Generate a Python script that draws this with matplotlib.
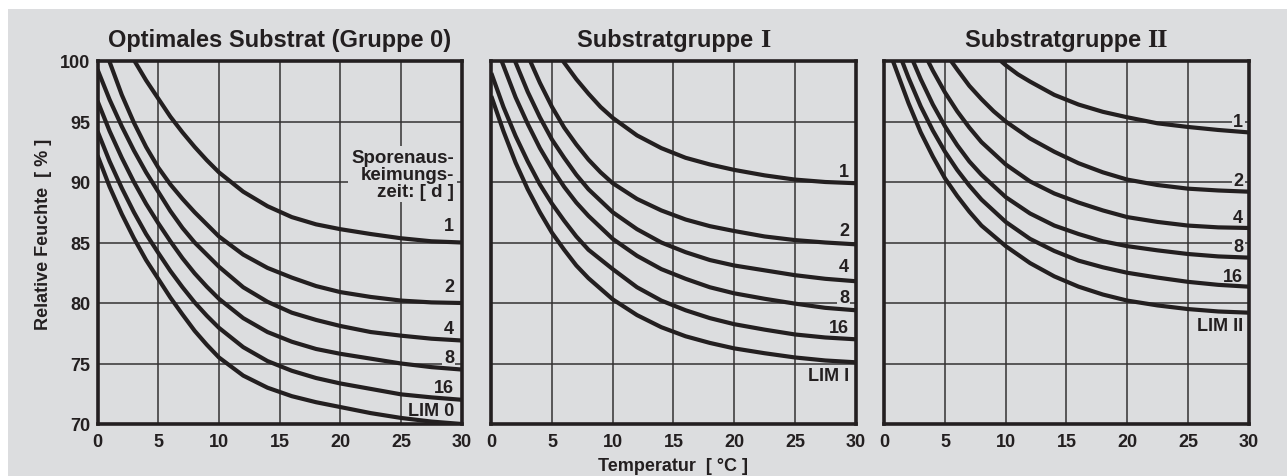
import matplotlib
matplotlib.use("Agg")
import matplotlib.pyplot as plt
from matplotlib.patches import Rectangle
from matplotlib.transforms import IdentityTransform

plt.rcParams['font.family'] = ['Liberation Sans', 'DejaVu Sans']
plt.rcParams['font.weight'] = 'bold'

W, H = 1287, 477
BG = '#dcdddf'
INK = '#231f20'
GRID = '#333132'

X_TICKS = [0, 5, 10, 15, 20, 25, 30]
Y_TICKS = [70, 75, 80, 85, 90, 95, 100]
CURVE_NAMES = ['1', '2', '4', '8', '16']

# ---------------- Optimales Substrat (Gruppe 0) ----------------
G0_T = [
    [3.05, 4, 5, 6, 7, 8, 9, 10, 12, 14, 16, 18, 20, 22.5, 25, 27.5, 30],
    [0.97, 2, 3, 4, 5, 6, 7, 8, 10, 12, 14, 16, 18, 20, 22.5, 25, 27.5, 30],
    [0, 1, 2, 3, 4, 5, 6, 7, 8, 10, 12, 14, 16, 18, 20, 22.5, 25, 27.5, 30],
    [0, 1, 2, 3, 4, 5, 6, 7, 8, 9, 10, 12, 14, 16, 18, 20, 22.5, 25, 27.5, 30],
    [0, 1, 2, 3, 4, 5, 6, 7, 8, 9, 10, 12, 14, 16, 18, 20, 22.5, 25, 27.5, 30],
    [0, 1, 2, 3, 4, 5, 6, 7, 8, 9, 10, 12, 14, 16, 18, 20, 22.5, 25, 27.5, 30],
]
G0_RH = [
    [100, 98.4, 96.9, 95.4, 94.1, 92.9, 91.8, 90.8, 89.2, 88.0, 87.1, 86.5, 86.1, 85.7, 85.35, 85.1, 85.0],
    [100, 97.2, 94.9, 92.9, 91.2, 89.8, 88.6, 87.5, 85.5, 84.0, 82.9, 82.1, 81.4, 80.9, 80.5, 80.2, 80.05, 80.0],
    [99.3, 96.8, 94.6, 92.6, 90.8, 89.2, 87.6, 86.2, 85.0, 83.0, 81.3, 80.1, 79.2, 78.6, 78.1, 77.6, 77.3, 77.05, 76.9],
    [96.7, 94.2, 92.0, 90.0, 88.2, 86.6, 85.1, 83.7, 82.45, 81.35, 80.35, 78.75, 77.6, 76.8, 76.2, 75.8, 75.4, 75.0, 74.7, 74.5],
    [94.2, 91.7, 89.5, 87.5, 85.7, 84.15, 82.65, 81.3, 80.05, 78.95, 77.95, 76.35, 75.2, 74.4, 73.8, 73.35, 72.9, 72.45, 72.2, 72.0],
    [92.2, 89.6, 87.35, 85.35, 83.55, 82.0, 80.45, 79.05, 77.7, 76.55, 75.5, 74.0, 73.0, 72.3, 71.8, 71.4, 70.9, 70.5, 70.2, 70.0],
]

# ---------------- Substratgruppe I ----------------
G1_T = [
    [5.9, 7, 8, 9, 10, 12, 14, 16, 18, 20, 22.5, 25, 27.5, 30],
    [3.2, 4, 5, 6, 7, 8, 9, 10, 12, 14, 16, 18, 20, 22.5, 25, 27.5, 30],
    [1.95, 3, 4, 5, 6, 7, 8, 10, 12, 14, 16, 18, 20, 22.5, 25, 27.5, 30],
    [0.85, 2, 3, 4, 5, 6, 7, 8, 10, 12, 14, 16, 18, 20, 22.5, 25, 27.5, 30],
    [0, 1, 2, 3, 4, 5, 6, 7, 8, 10, 12, 14, 16, 18, 20, 22.5, 25, 27.5, 30],
    [0, 1, 2, 3, 4, 5, 6, 7, 8, 10, 12, 14, 16, 18, 20, 22.5, 25, 27.5, 30],
]
G1_RH = [
    [100, 98.5, 97.3, 96.2, 95.3, 93.85, 92.8, 92.0, 91.45, 91.0, 90.55, 90.2, 90.0, 89.9],
    [100, 98.2, 96.2, 94.5, 93.1, 91.85, 90.8, 89.9, 88.6, 87.65, 86.9, 86.35, 85.95, 85.5, 85.2, 85.0, 84.85],
    [100, 97.45, 95.35, 93.5, 92.0, 90.6, 89.4, 87.5, 86.1, 85.0, 84.2, 83.55, 83.1, 82.7, 82.3, 82.0, 81.8],
    [100, 97.0, 94.8, 92.8, 91.1, 89.6, 88.3, 87.2, 85.3, 83.9, 82.8, 82.0, 81.3, 80.8, 80.35, 79.95, 79.6, 79.4],
    [99.0, 96.2, 93.8, 91.7, 89.8, 88.2, 86.8, 85.5, 84.4, 82.8, 81.3, 80.2, 79.4, 78.75, 78.25, 77.8, 77.4, 77.15, 77.0],
    [97.1, 94.2, 91.6, 89.4, 87.5, 85.8, 84.4, 83.1, 82.05, 80.3, 79.0, 78.0, 77.25, 76.7, 76.25, 75.85, 75.5, 75.25, 75.1],
]

# ---------------- Substratgruppe II ----------------
G2_T = [
    [9.6, 10, 11, 12, 14, 16, 18, 20, 22.5, 25, 27.5, 30],
    [5.5, 6, 7, 8, 9, 10, 12, 14, 16, 18, 20, 22.5, 25, 27.5, 30],
    [3.6, 4, 5, 6, 7, 8, 10, 12, 14, 16, 18, 20, 22.5, 25, 27.5, 30],
    [2.36, 3, 4, 5, 6, 7, 8, 10, 12, 14, 16, 18, 20, 22.5, 25, 27.5, 30],
    [1.46, 2, 3, 4, 5, 6, 7, 8, 10, 12, 14, 16, 18, 20, 22.5, 25, 27.5, 30],
    [0.71, 2, 3, 4, 5, 6, 7, 8, 10, 12, 14, 16, 18, 20, 22.5, 25, 27.5, 30],
]
G2_RH = [
    [100, 99.65, 98.9, 98.3, 97.2, 96.4, 95.8, 95.35, 94.85, 94.55, 94.3, 94.1],
    [100, 99.3, 97.95, 96.85, 95.85, 95.0, 93.6, 92.5, 91.55, 90.8, 90.2, 89.75, 89.45, 89.3, 89.2],
    [100, 99.2, 97.4, 95.85, 94.5, 93.3, 91.45, 90.05, 89.05, 88.3, 87.65, 87.1, 86.7, 86.4, 86.25, 86.2],
    [100, 98.5, 96.4, 94.6, 93.05, 91.7, 90.6, 88.75, 87.4, 86.4, 85.7, 85.1, 84.7, 84.35, 84.05, 83.85, 83.75],
    [100, 98.6, 96.25, 94.25, 92.5, 91.0, 89.7, 88.55, 86.7, 85.3, 84.3, 83.5, 82.95, 82.5, 82.1, 81.75, 81.5, 81.35],
    [100, 96.5, 94.1, 92.1, 90.3, 88.85, 87.55, 86.4, 84.7, 83.3, 82.2, 81.35, 80.7, 80.2, 79.8, 79.5, 79.3, 79.2],
]

LIM_NAMES = ['LIM 0', 'LIM I', 'LIM II']
TITLE_SANS = ['Optimales Substrat (Gruppe 0)', 'Substratgruppe ', 'Substratgruppe ']
TITLE_SERIF = ['', 'I', 'II']
XLABEL = 'Temperatur  [ °C ]'
YLABEL = 'Relative Feuchte  [ % ]'
LEGEND_TITLE = 'Sporenaus-\nkeimungs-\nzeit: [ d ]'

# layout (pixel positions / label placements)
AX_LEFT_PX = [97.5, 491.3, 884.3]
AX_W_PX = 364.3
AX_TOP_PX, AX_BOT_PX = 62.0, 425.0
LABEL_X = [29.35, 29.45, 29.55]
LABEL_Y = [
    [86.4, 81.4, 77.9, 75.5, 73.0, 71.1],
    [90.9, 86.0, 83.0, 80.45, 78.0, 74.0],
    [95.0, 90.1, 87.05, 84.7, 82.2, 78.1],
]

fig = plt.figure(figsize=(W / 100, H / 100), dpi=100, facecolor='white')
fig.patches.append(Rectangle((8 / W, 0), 1, (H - 10) / H, transform=fig.transFigure,
                             facecolor=BG, edgecolor='none', zorder=-10))

panels_T = [G0_T, G1_T, G2_T]
panels_RH = [G0_RH, G1_RH, G2_RH]
axes = []
for i in range(3):
    ax = fig.add_axes([AX_LEFT_PX[i] / W, (H - AX_BOT_PX) / H, AX_W_PX / W,
                       (AX_BOT_PX - AX_TOP_PX) / H])
    axes.append(ax)
    ax.set_facecolor(BG)
    ax.set_xlim(0, 30)
    ax.set_ylim(70, 100)
    ax.set_xticks(X_TICKS)
    ax.set_yticks(Y_TICKS)
    ax.grid(True, color=GRID, lw=1.1, zorder=1)
    ax.set_axisbelow(True)
    ax.tick_params(length=0, labelsize=13, colors=INK, pad=6.5)
    ax.tick_params(axis='y', pad=5.0)
    for lab in ax.get_xticklabels() + ax.get_yticklabels():
        lab.set_fontweight('bold')
    if i > 0:
        ax.tick_params(labelleft=False)
    for s in ax.spines.values():
        s.set_linewidth(2.6)
        s.set_color(INK)
        s.set_zorder(6)
    for T, RH in zip(panels_T[i], panels_RH[i]):
        ax.plot(T, RH, color=INK, lw=3.0, solid_capstyle='butt',
                solid_joinstyle='round', zorder=3)
    names = CURVE_NAMES + [LIM_NAMES[i]]
    for name, yv in zip(names, LABEL_Y[i]):
        ax.text(LABEL_X[i], yv, name, ha='right', va='center', fontsize=13,
                fontweight='bold', color=INK, zorder=2,
                bbox=dict(facecolor=BG, edgecolor='none', pad=1.0))

axes[0].text(29.35, 90.66, LEGEND_TITLE, ha='right', va='center', multialignment='right',
             fontsize=13.5, fontweight='bold', color=INK, linespacing=1.0, zorder=2,
             bbox=dict(facecolor=BG, edgecolor='none', pad=2.0))

fig.text(44 / W, 1 - 234.5 / H, YLABEL, rotation=90, ha='center', va='center',
         fontsize=13, fontweight='bold', color=INK)
fig.text(673 / W, 1 - 467 / H, XLABEL, ha='center', va='center',
         fontsize=13, fontweight='bold', color=INK)

# titles (sans part + serif roman numeral)
renderer = fig.canvas.get_renderer()
base_y = H - 46.7
for i in range(3):
    cx = AX_LEFT_PX[i] + AX_W_PX / 2
    t1 = fig.text(0, base_y, TITLE_SANS[i], transform=IdentityTransform(), ha='left',
                  va='baseline', fontsize=17, fontweight='bold', color=INK)
    w1 = t1.get_window_extent(renderer).width
    w2 = 0
    t2 = None
    if TITLE_SERIF[i]:
        t2 = fig.text(0, base_y, TITLE_SERIF[i], transform=IdentityTransform(), ha='left',
                      va='baseline', fontsize=19, fontweight='bold', color=INK,
                      family=['Liberation Serif', 'DejaVu Serif'])
        w2 = t2.get_window_extent(renderer).width
    x0 = cx - (w1 + w2) / 2
    t1.set_x(x0)
    if t2 is not None:
        t2.set_x(x0 + w1)

fig.savefig('out.png', dpi=100, facecolor='white')
